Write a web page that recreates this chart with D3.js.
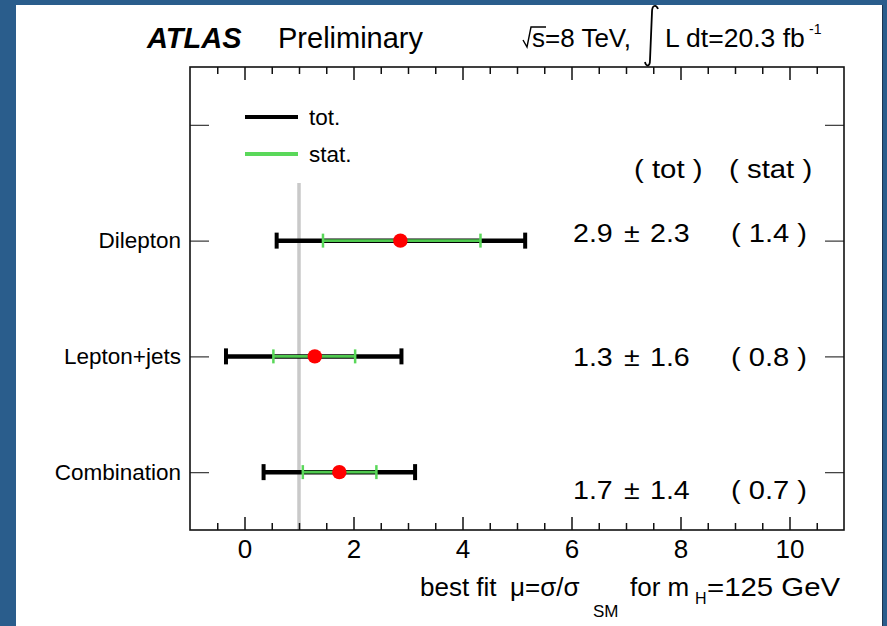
<!DOCTYPE html>
<html>
<head>
<meta charset="utf-8">
<script src="https://cdn.jsdelivr.net/npm/d3@7"></script>
<style>
  html, body { margin: 0; padding: 0; background: #2a5d8c; }
  svg { display: block; }
  text { font-family: 'Liberation Sans', Arial, Helvetica, sans-serif; fill: #000; }
</style>
</head>
<body>
<div id="chart"></div>
<script>
// channels, top to bottom
const categories = ['Dilepton', 'Lepton+jets', 'Combination'];
const mu = [2.86, 1.29, 1.74];
const totDown = [2.27, 1.63, 1.39];
const totUp = [2.29, 1.59, 1.39];
const statDown = [1.42, 0.76, 0.67];
const statUp = [1.47, 0.74, 0.68];
// printed numbers
const muText = ['2.9', '1.3', '1.7'];
const totText = ['2.3', '1.6', '1.4'];
const statText = ['1.4', '0.8', '0.7'];
const xMajorTicks = [0, 2, 4, 6, 8, 10];
const smLine = 1;

const W = 887, H = 626;
const frame = { left: 190, right: 844, top: 67, bottom: 530 };
const textDy = [1, 10, 27]; // baseline shift of the number column per row

const svg = d3.select('#chart').append('svg')
  .attr('width', W).attr('height', H);

// white page inside the blue border
svg.append('rect').attr('x', 16).attr('y', 5).attr('width', 867).attr('height', H - 5).attr('fill', '#fff');
svg.append('line').attr('x1', 882.5).attr('x2', 882.5).attr('y1', 5).attr('y2', H)
  .attr('stroke', '#1d3550').attr('stroke-width', 1);

// text drawn a bit wider than the font, like the original
function label(g, tx, ty, str, size, sx = 1) {
  return g.append('text')
    .attr('transform', `translate(${tx},${ty}) scale(${sx},1)`)
    .attr('font-size', size)
    .text(str);
}

const x = d3.scaleLinear().domain([-1, 11]).range([frame.left, frame.right]);
const y = d3.scalePoint().domain(['', ...categories]).range([frame.top, frame.bottom]).padding(0.5);

const xMinorTicks = d3.range(-0.5, 11, 0.5).filter(v => !xMajorTicks.includes(v));

// SM reference line
svg.append('line')
  .attr('x1', x(smLine)).attr('x2', x(smLine))
  .attr('y1', 183).attr('y2', frame.bottom)
  .attr('stroke', '#c9c9c9').attr('stroke-width', 3.5);

function styleAxis(g) {
  g.select('.domain').remove();
  g.selectAll('.tick line').attr('stroke', '#111').attr('stroke-width', 1.5);
}

// x axes, ticks pointing inward
svg.append('g').attr('transform', `translate(0,${frame.bottom})`)
  .call(d3.axisBottom(x).tickValues(xMajorTicks).tickSize(-13).tickPadding(10))
  .call(styleAxis)
  .call(g => g.selectAll('text').attr('font-size', 26).attr('font-family', null));
svg.append('g').attr('transform', `translate(0,${frame.bottom})`)
  .call(d3.axisBottom(x).tickValues(xMinorTicks).tickSize(-7).tickFormat(''))
  .call(styleAxis);
svg.append('g').attr('transform', `translate(0,${frame.top})`)
  .call(d3.axisTop(x).tickValues(xMajorTicks).tickSize(-13).tickFormat(''))
  .call(styleAxis);
svg.append('g').attr('transform', `translate(0,${frame.top})`)
  .call(d3.axisTop(x).tickValues(xMinorTicks).tickSize(-7).tickFormat(''))
  .call(styleAxis);

// y axes
svg.append('g').attr('transform', `translate(${frame.left},0)`)
  .call(d3.axisLeft(y).tickSize(-19).tickPadding(9))
  .call(styleAxis)
  .call(g => g.selectAll('.tick line').attr('stroke', '#444').attr('stroke-width', 1.3))
  .call(g => g.selectAll('text').attr('font-size', 22.5).attr('font-family', null));
svg.append('g').attr('transform', `translate(${frame.right},0)`)
  .call(d3.axisRight(y).tickSize(-19).tickFormat(''))
  .call(styleAxis)
  .call(g => g.selectAll('.tick line').attr('stroke', '#444').attr('stroke-width', 1.3));

// frame
svg.append('rect')
  .attr('x', frame.left).attr('y', frame.top)
  .attr('width', frame.right - frame.left).attr('height', frame.bottom - frame.top)
  .attr('fill', 'none').attr('stroke', '#111').attr('stroke-width', 1.6);

// error bars
const rows = svg.append('g').selectAll('g').data(categories).join('g')
  .attr('transform', d => `translate(0,${y(d)})`);

rows.append('line')
  .attr('x1', (d, i) => x(mu[i] - totDown[i])).attr('x2', (d, i) => x(mu[i] + totUp[i]))
  .attr('stroke', '#000').attr('stroke-width', 4.5);
[[totDown, -1], [totUp, 1]].forEach(([err, s]) => {
  rows.append('line')
    .attr('x1', (d, i) => x(mu[i] + s * err[i])).attr('x2', (d, i) => x(mu[i] + s * err[i]))
    .attr('y1', -8).attr('y2', 8)
    .attr('stroke', '#000').attr('stroke-width', 4);
});
rows.append('line')
  .attr('x1', (d, i) => x(mu[i] - statDown[i])).attr('x2', (d, i) => x(mu[i] + statUp[i]))
  .attr('stroke', '#4fc94f').attr('stroke-width', 2.6);
[[statDown, -1], [statUp, 1]].forEach(([err, s]) => {
  rows.append('line')
    .attr('x1', (d, i) => x(mu[i] + s * err[i])).attr('x2', (d, i) => x(mu[i] + s * err[i]))
    .attr('y1', -7).attr('y2', 7)
    .attr('stroke', '#5ad85a').attr('stroke-width', 2.5);
});
rows.append('circle')
  .attr('cx', (d, i) => x(mu[i])).attr('r', 7.2)
  .attr('fill', '#ff0000');

// number column
const num = svg.append('g');
label(num, 634, 178, '( tot )', 26, 1.13);
label(num, 729, 178, '( stat )', 26, 1.13);
categories.forEach((c, i) => {
  const by = y(c) + textDy[i];
  label(num, 573, by, muText[i], 26, 1.1);
  label(num, 624, by, '\u00b1', 26, 1.1);
  label(num, 650, by, totText[i], 26, 1.1);
  label(num, 731, by, `( ${statText[i]} )`, 26, 1.12);
});

// legend
const legend = [['tot.', '#000', 117], ['stat.', '#5ad85a', 154]];
legend.forEach(([name, color, ly]) => {
  svg.append('line').attr('x1', 245).attr('x2', 298).attr('y1', ly).attr('y2', ly)
    .attr('stroke', color).attr('stroke-width', 4);
  label(svg, 309, ly + 8, name, 22.5);
});

// header
label(svg, 147, 48, 'ATLAS', 29).attr('font-weight', 'bold').attr('font-style', 'italic');
label(svg, 278, 48, 'Preliminary', 29);

svg.append('path').attr('d', 'M523,40 L527,47 L531,27 L546,27')
  .attr('fill', 'none').attr('stroke', '#000').attr('stroke-width', 1.4);
label(svg, 532, 47, 's=8 TeV,', 26);
svg.append('path').attr('d', 'M658,9 C656,4 652,5 652,12 L650,60 C650,67 646,67 645,62')
  .attr('fill', 'none').attr('stroke', '#000').attr('stroke-width', 1.8);
label(svg, 665, 47, 'L dt=20.3 fb', 26, 1.02);
label(svg, 809, 34, '-1', 14);

// x title
const xt = svg.append('g');
label(xt, 420, 596, 'best fit', 26);
label(xt, 510, 596, '\u03bc=\u03c3/\u03c3', 26);
label(xt, 593, 617, 'SM', 17);
label(xt, 630, 596, 'for m', 26);
label(xt, 695, 604, 'H', 16);
label(xt, 707, 596, '=125 GeV', 26, 1.13);
</script>
</body>
</html>
